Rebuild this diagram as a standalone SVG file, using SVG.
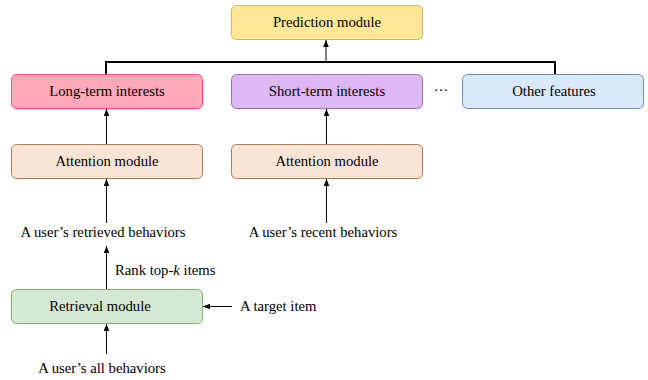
<svg xmlns="http://www.w3.org/2000/svg" width="648" height="380" viewBox="0 0 648 380">
<defs>
<marker id="ah" markerWidth="8" markerHeight="8" refX="7" refY="4" orient="auto" markerUnits="userSpaceOnUse">
<path d="M0,1.2 L7,4 L0,6.8 Z" fill="#000"/>
</marker>
<style>
text{font-family:"Liberation Serif","Times New Roman",serif;font-size:14.7px;fill:#000;}
.c{text-anchor:middle;}
.ln{stroke:#000;stroke-width:1;fill:none;}
</style>
</defs>
<rect width="648" height="380" fill="#fff"/>
<g id="prediction">
<rect x="231.5" y="5.5" width="191" height="34" rx="5" fill="#FFE699" stroke="#D6B656"/>
<text class="c" x="327" y="27">Prediction module</text>
</g>
<g id="longterm">
<rect x="11.5" y="74.5" width="191" height="34" rx="5" fill="#FFA8B8" stroke="#FF4D6D"/>
<text class="c" x="107" y="96">Long-term interests</text>
</g>
<g id="shortterm">
<rect x="231.5" y="74.5" width="191" height="34" rx="5" fill="#DDB8F5" stroke="#9673A6"/>
<text class="c" x="327" y="96">Short-term interests</text>
</g>
<g id="dots"><text class="c" x="441" y="95">···</text></g>
<g id="other">
<rect x="462.5" y="74.5" width="181" height="34" rx="5" fill="#DAE8FC" stroke="#6C8EBF"/>
<text class="c" x="554" y="96">Other features</text>
</g>
<g id="attention1">
<rect x="11.5" y="144.5" width="191" height="34" rx="5" fill="#FAE4D6" stroke="#B07A5A"/>
<text class="c" x="107" y="166">Attention module</text>
</g>
<g id="attention2">
<rect x="231.5" y="144.5" width="191" height="34" rx="5" fill="#FAE4D6" stroke="#B07A5A"/>
<text class="c" x="327" y="166">Attention module</text>
</g>
<g id="retrieved"><text class="c" x="103" y="237">A user’s retrieved behaviors</text></g>
<g id="recent"><text class="c" x="323" y="237">A user’s recent behaviors</text></g>
<g id="rank"><text x="115" y="275">Rank top-<tspan font-style="italic">k</tspan> items</text></g>
<g id="retrieval">
<rect x="11.5" y="289.5" width="191" height="34" rx="5" fill="#D5E8D4" stroke="#82B366"/>
<text class="c" x="100" y="311">Retrieval module</text>
</g>
<g id="target"><text x="240" y="311">A target item</text></g>
<g id="all"><text class="c" x="102" y="373">A user’s all behaviors</text></g>
<g id="connectors">
<path d="M106,74 V62 H555 V74" stroke="#000" stroke-width="2" fill="none"/>
<path d="M326,62 V40" class="ln" stroke-width="1.5" marker-end="url(#ah)"/>
<path d="M106.5,144 V109" class="ln" marker-end="url(#ah)"/>
<path d="M326.5,144 V109" class="ln" marker-end="url(#ah)"/>
<path d="M106.5,223 V179" class="ln" marker-end="url(#ah)"/>
<path d="M326.5,223 V179" class="ln" marker-end="url(#ah)"/>
<path d="M106.5,289 V246" class="ln" marker-end="url(#ah)"/>
<path d="M106.5,354 V324" class="ln" marker-end="url(#ah)"/>
<path d="M232,306.5 H203" class="ln" marker-end="url(#ah)"/>
</g>
</svg>
